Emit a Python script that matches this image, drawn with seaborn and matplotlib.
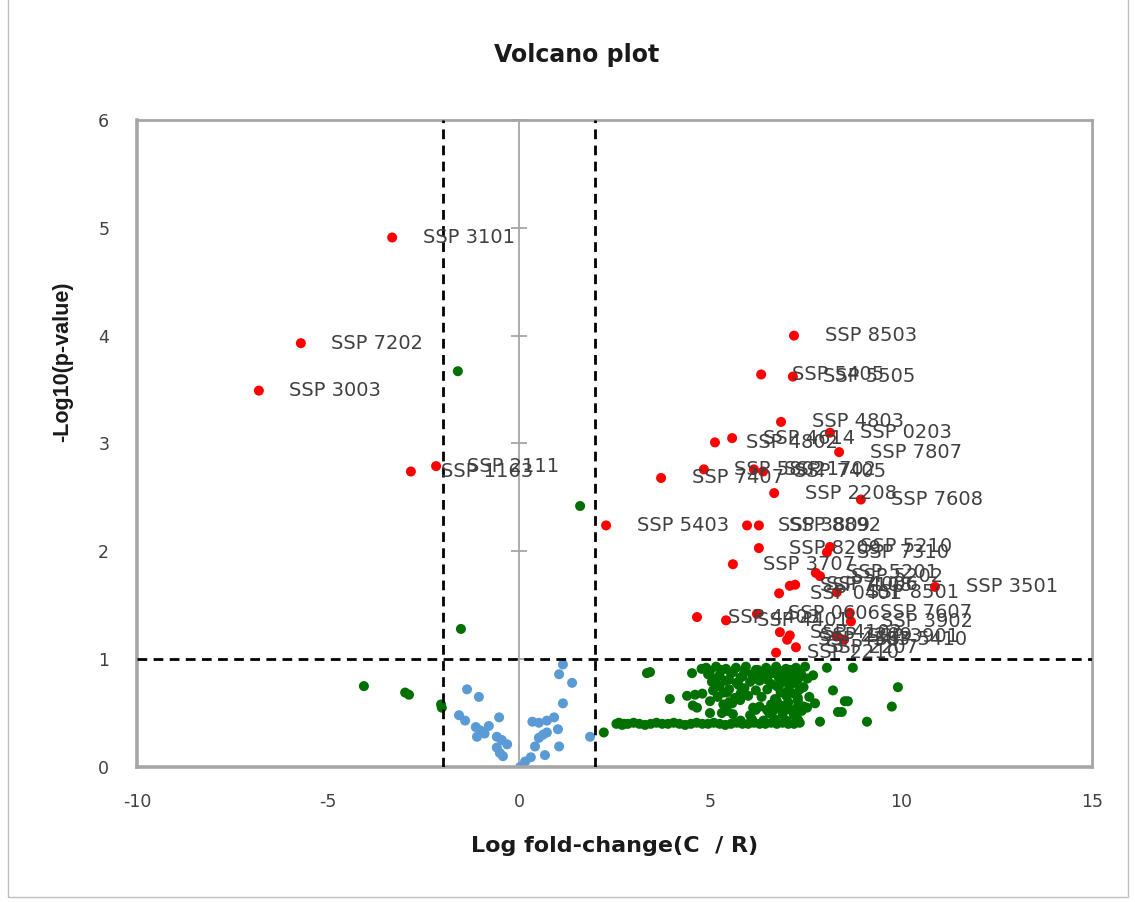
import matplotlib
matplotlib.use('Agg')
import matplotlib.pyplot as plt
import seaborn as sns
import pandas as pd
from matplotlib.patches import Rectangle

# red = significant, labelled
red_names = ['SSP 3101', 'SSP 7202', 'SSP 3003', 'SSP 1163', 'SSP 2111',
             'SSP 8503', 'SSP 5405', 'SSP 5505', 'SSP 4803', 'SSP 4614',
             'SSP 4802', 'SSP 0203', 'SSP 7807', 'SSP 5802', 'SSP 1702',
             'SSP 7405', 'SSP 7407', 'SSP 2208', 'SSP 7608', 'SSP 5403',
             'SSP 3809', 'SSP 8892', 'SSP 8209', 'SSP 5210', 'SSP 7310',
             'SSP 3707', 'SSP 5201', 'SSP 5202', 'SSP 0401', 'SSP 7108',
             'SSP 4006', 'SSP 8501', 'SSP 3501', 'SSP 4403', 'SSP 4401',
             'SSP 0606', 'SSP 7607', 'SSP 3902', 'SSP 4102', 'SSP 2209',
             'SSP 4303', 'SSP 3901', 'SSP 5410', 'SSP 2207', 'SSP 2210']
red_x = [-3.32, -5.71, -6.81, -2.83, -2.17,
         7.20, 6.34, 7.17, 6.86, 5.58,
         5.13, 8.14, 8.38, 4.84, 6.15,
         6.39, 3.72, 6.68, 8.95, 2.28,
         5.97, 6.28, 6.28, 8.14, 8.06,
         5.60, 7.77, 7.88, 6.81, 7.09,
         7.23, 8.32, 10.89, 4.66, 5.42,
         6.23, 8.66, 8.69, 6.83, 7.09,
         7.02, 8.32, 8.51, 7.25, 6.73]
red_y = [4.91, 3.93, 3.49, 2.74, 2.79,
         4.00, 3.64, 3.62, 3.20, 3.05,
         3.01, 3.10, 2.92, 2.76, 2.76,
         2.74, 2.68, 2.54, 2.48, 2.24,
         2.24, 2.24, 2.03, 2.04, 1.99,
         1.88, 1.80, 1.77, 1.61, 1.68,
         1.69, 1.62, 1.67, 1.39, 1.36,
         1.42, 1.43, 1.35, 1.25, 1.22,
         1.18, 1.21, 1.18, 1.11, 1.06]

# blue = small fold change, not significant
blue_x = [-1.36, -1.05, -1.57, -1.41, -1.13, -1.02, -1.10, -0.79, -0.52, -0.58,
          -0.45, -0.31, -0.58, -0.50, -0.42, -0.90, 0.03, 0.16, 0.31, 0.42,
          0.52, 0.63, 0.73, 0.52, 0.73, 0.92, 1.02, 1.05, 0.68, 1.15,
          1.05, 1.15, 1.39, 1.86, 0.35]
blue_y = [0.72, 0.65, 0.48, 0.43, 0.37, 0.34, 0.28, 0.38, 0.46, 0.28,
          0.25, 0.21, 0.18, 0.13, 0.10, 0.31, 0.00, 0.05, 0.09, 0.19,
          0.27, 0.30, 0.32, 0.41, 0.43, 0.46, 0.35, 0.19, 0.11, 0.59,
          0.86, 0.95, 0.78, 0.28, 0.42]

# green = the rest
green_x = [-1.60, 1.60, -1.52, -4.06, -2.98, -2.88, -2.04, -2.02, 2.22,
           3.43, 3.35, 4.53, 3.95, 5.08, 5.44, 4.61, 4.66, 5.00, 5.31,
           5.58, 5.79, 6.13, 6.49, 6.78, 7.02, 7.28, 7.54, 7.75, 7.88,
           8.35, 8.53, 8.61, 8.45, 8.22, 9.11, 9.76, 9.92, 8.74, 8.06, 7.70, 7.49,
           4.78, 4.90, 5.16, 5.42, 5.68, 5.94, 6.20, 6.47, 6.73, 6.99, 7.25,
           4.95, 5.25, 5.55, 5.85, 6.10, 6.40, 6.65, 6.90, 7.15, 7.40,
           5.05, 5.40, 5.70, 6.05, 6.30, 6.60, 6.95, 7.20,
           5.50, 5.90, 6.20, 6.50, 6.80, 7.05, 7.35,
           4.40, 5.20, 5.65, 6.00, 6.35, 6.70, 7.00, 7.30, 7.60,
           4.55, 5.35, 6.30, 6.60, 6.95, 7.45,
           5.60, 6.05, 6.55, 6.90, 7.20,
           5.00, 5.30, 5.60, 5.90, 6.25, 6.55, 6.85, 7.10, 7.35,
           5.15, 5.50, 5.80, 6.20, 6.50, 6.80, 7.05, 7.30, 7.55,
           5.25, 5.75, 6.75, 7.10, 7.45,
           4.80, 5.35, 5.80, 6.85, 7.20,
           5.00, 5.50, 6.75, 7.05, 7.30,
           5.45, 6.20, 6.65, 7.10, 7.40,
           2.55, 2.62, 2.70, 2.75, 2.85, 3.00, 3.15, 3.30, 3.45, 3.60, 3.75,
           3.90, 4.05, 4.20, 4.35, 4.50, 4.65, 4.80, 4.95, 5.10, 5.25,
           5.40, 5.55, 5.70, 5.85, 6.00, 6.15, 6.30, 6.45, 6.60, 6.75,
           6.90, 7.05, 7.20, 7.35,
           5.80, 6.10, 6.40, 6.70, 7.00, 7.30]
green_y = [3.67, 2.42, 1.28, 0.75, 0.69, 0.67, 0.58, 0.55, 0.32,
           0.88, 0.87, 0.87, 0.63, 0.71, 0.69, 0.67, 0.55, 0.50, 0.50,
           0.59, 0.62, 0.55, 0.53, 0.55, 0.57, 0.55, 0.55, 0.59, 0.42,
           0.51, 0.61, 0.61, 0.51, 0.71, 0.42, 0.56, 0.74, 0.92, 0.92, 0.85, 0.93,
           0.91, 0.92, 0.93, 0.91, 0.92, 0.93, 0.90, 0.92, 0.93, 0.91, 0.92,
           0.86, 0.85, 0.87, 0.84, 0.86, 0.85, 0.87, 0.84, 0.86, 0.85,
           0.79, 0.80, 0.78, 0.79, 0.80, 0.77, 0.79, 0.78,
           0.72, 0.73, 0.71, 0.72, 0.74, 0.71, 0.72,
           0.66, 0.65, 0.64, 0.66, 0.65, 0.63, 0.66, 0.64, 0.65,
           0.57, 0.58, 0.56, 0.58, 0.57, 0.56,
           0.49, 0.48, 0.50, 0.49, 0.48,
           0.89, 0.90, 0.88, 0.89, 0.90, 0.88, 0.89, 0.90, 0.88,
           0.82, 0.81, 0.83, 0.82, 0.81, 0.83, 0.82, 0.81, 0.82,
           0.75, 0.76, 0.75, 0.76, 0.74,
           0.68, 0.69, 0.68, 0.69, 0.68,
           0.61, 0.60, 0.61, 0.60, 0.61,
           0.52, 0.53, 0.52, 0.53, 0.52,
           0.40, 0.41, 0.39, 0.40, 0.40, 0.41, 0.40, 0.39, 0.40, 0.41, 0.40,
           0.40, 0.41, 0.40, 0.39, 0.40, 0.41, 0.40, 0.40, 0.41, 0.40,
           0.39, 0.40, 0.41, 0.40, 0.40, 0.41, 0.40, 0.40, 0.41, 0.40,
           0.41, 0.40, 0.40, 0.41,
           0.43, 0.44, 0.43, 0.44, 0.43, 0.44]

df = pd.concat([
    pd.DataFrame({'x': blue_x, 'y': blue_y, 'grp': 'blue'}),
    pd.DataFrame({'x': green_x, 'y': green_y, 'grp': 'green'}),
    pd.DataFrame({'x': red_x, 'y': red_y, 'grp': 'red'}),
], ignore_index=True)

sns.set_style('white')
plt.rcParams['axes.unicode_minus'] = False
fig = plt.figure(figsize=(11.35, 9.02), dpi=100)
ax = fig.add_axes([0.1207, 0.1497, 0.8414, 0.7173])

# excel style vertical axis at x=0 with cross ticks
ax.axvline(0, color='#A6A6A6', lw=1.3, zorder=1)
ax.plot([0] * 6, [1, 2, 3, 4, 5, 6], ls='none', marker='_', ms=12,
        mew=1.3, color='#A6A6A6', zorder=1, clip_on=False)

sns.scatterplot(data=df, x='x', y='y', hue='grp',
                palette={'blue': '#5B9BD5', 'green': '#007000', 'red': '#FF0000'},
                s=52, linewidth=0, legend=False, ax=ax, zorder=2)

# cut-offs
for xv in [-2, 2]:
    ax.axvline(xv, color='black', lw=2, ls=(0, (3.5, 2.3)), zorder=3)
ax.axhline(1, color='black', lw=2, ls=(0, (3.5, 2.3)), zorder=3)

for n, xx, yy in zip(red_names, red_x, red_y):
    ax.annotate(n, (xx, yy), xytext=(22, 0), textcoords='offset points',
                va='center', ha='left', fontsize=14, color='#404040', zorder=4)

ax.set_xlim(-10, 15)
ax.set_ylim(0, 6)
ax.set_xticks([-10, -5, 0, 5, 10, 15])
ax.set_yticks([0, 1, 2, 3, 4, 5, 6])
ax.tick_params(axis='x', direction='out', length=5, width=1.3, color='#A6A6A6',
               labelsize=12.5, labelcolor='#404040', pad=14)
ax.tick_params(axis='y', length=0, labelsize=12.5, labelcolor='#404040', pad=20)
for sp in ax.spines.values():
    sp.set_visible(True)
    sp.set_color('#A6A6A6')
    sp.set_linewidth(2)
ax.spines['left'].set_linewidth(2.6)
ax.spines['bottom'].set_linewidth(2.6)

ax.set_xlabel('Log fold-change(C  / R)', fontsize=16, fontweight='bold',
              color='#1a1a1a', labelpad=18)
ax.set_ylabel('-Log10(p-value)', fontsize=15.5, fontweight='bold',
              family='Liberation Sans', color='#1a1a1a', va='center')
ax.yaxis.set_label_coords(-0.0775, 0.627)

fig.text(0.508, 0.939, 'Volcano plot', ha='center', va='center',
         fontsize=17, fontweight='bold', color='#1a1a1a')

# outer chart border
fig.patches.append(Rectangle((0.007, 0.0055), 0.987, 1.2, transform=fig.transFigure,
                             fill=False, edgecolor='#BFBFBF', lw=1))

fig.savefig('out.png', dpi=100)
